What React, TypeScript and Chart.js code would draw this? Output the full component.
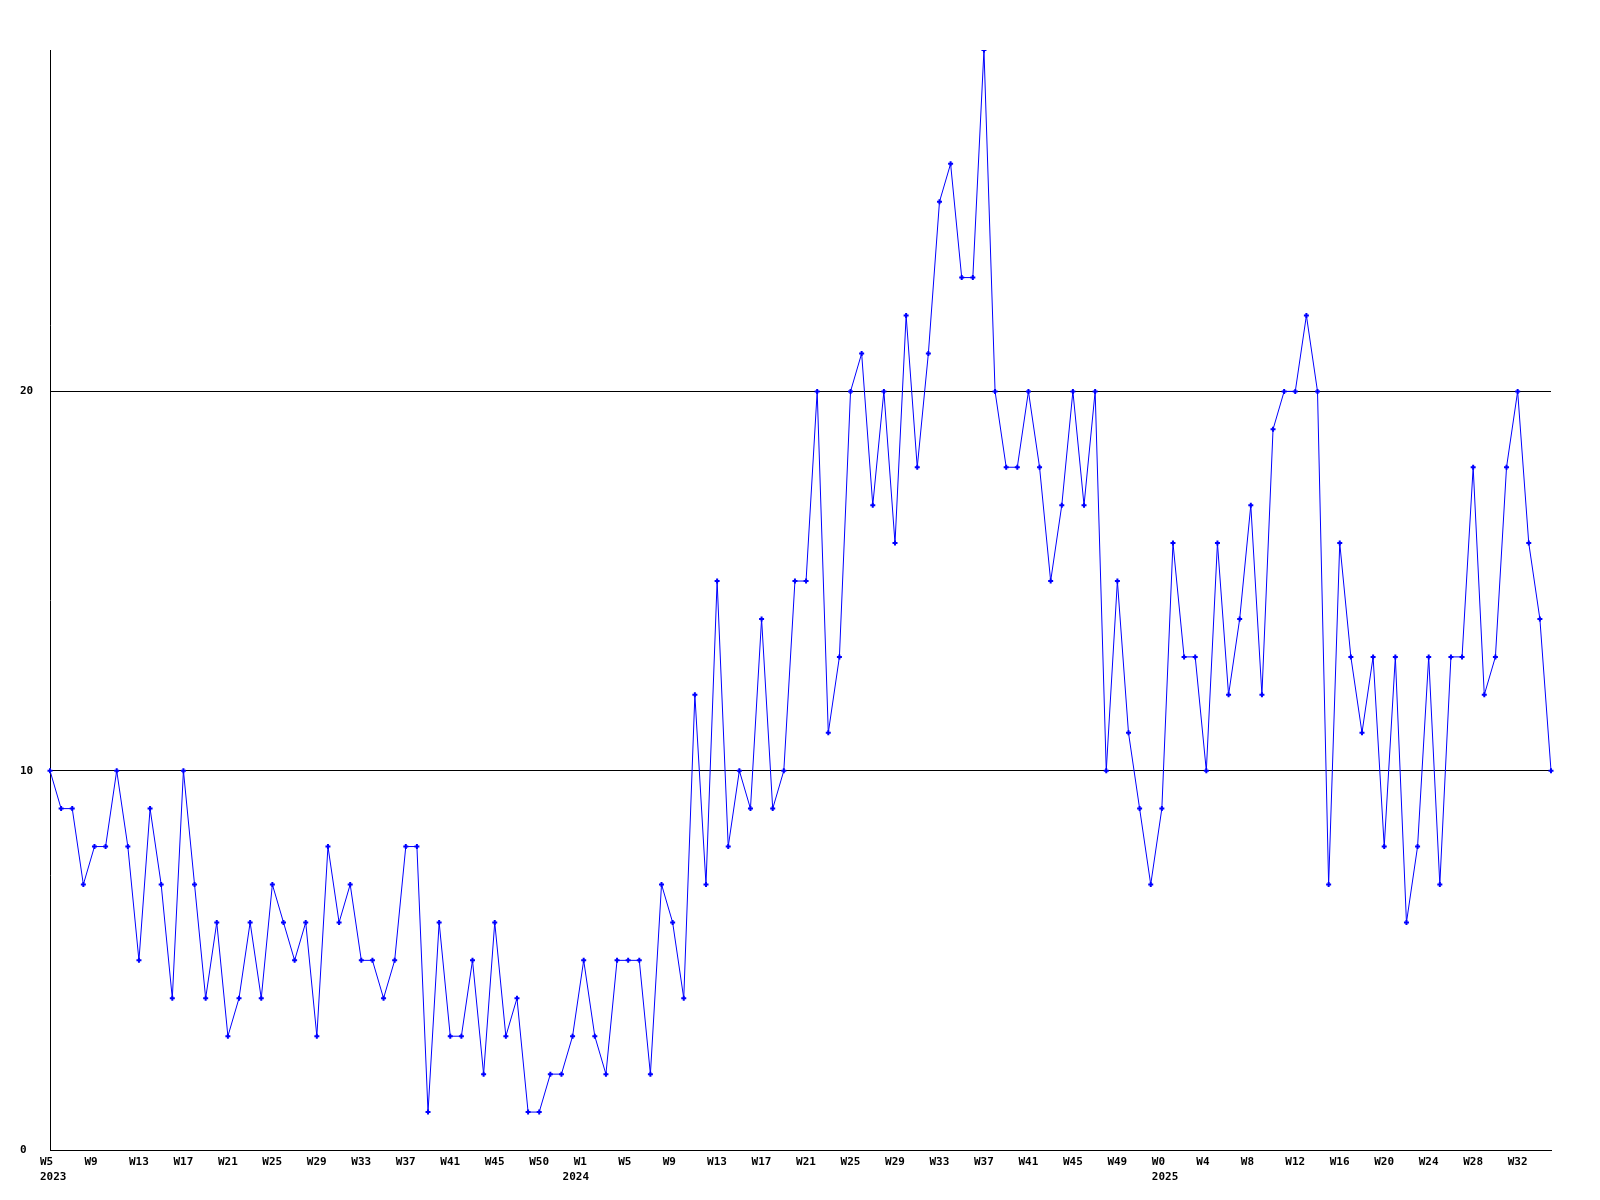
import React, { useEffect, useRef } from "react";
import { Chart, registerables } from "chart.js";

Chart.register(...registerables);

// weekly values, 136 points starting 2023 W5
const values: number[] = [
  10, 9, 9, 7, 8, 8, 10, 8, 5, 9, 7, 4, 10, 7, 4, 6, 3, 4, 6, 4,
  7, 6, 5, 6, 3, 8, 6, 7, 5, 5, 4, 5, 8, 8, 1, 6, 3, 3, 5, 2,
  6, 3, 4, 1, 1, 2, 2, 3, 5, 3, 2, 5, 5, 5, 2, 7, 6, 4, 12, 7,
  15, 8, 10, 9, 14, 9, 10, 15, 15, 20, 11, 13, 20, 21, 17, 20, 16, 22, 18, 21,
  25, 26, 23, 23, 29, 20, 18, 18, 20, 18, 15, 17, 20, 17, 20, 10, 15, 11, 9, 7,
  9, 16, 13, 13, 10, 16, 12, 14, 17, 12, 19, 20, 20, 22, 20, 7, 16, 13, 11, 13,
  8, 13, 6, 8, 13, 7, 13, 13, 18, 12, 13, 18, 20, 16, 14, 10,
];

// week tick labels, one every 4 points
const weekLabels: string[] = [
  "W5", "W9", "W13", "W17", "W21", "W25", "W29", "W33", "W37", "W41", "W45", "W50",
  "W1", "W5", "W9", "W13", "W17", "W21", "W25", "W29", "W33", "W37", "W41", "W45", "W49",
  "W0", "W4", "W8", "W12", "W16", "W20", "W24", "W28", "W32",
];
const labelStep = 4;
// year labels (second line) and the point they sit under
const yearNames: string[] = ["2023", "2024", "2025"];
const yearPoints: number[] = [0, 47, 100];
const yTicks: number[] = [0, 10, 20];
const yMax = 29;

const categories: string[] = values.map((_, i) => String(i));

const FONT = { family: "'DejaVu Sans Mono', monospace", size: 11, weight: "bold" as const, lineHeight: 15 / 11 };

export default function App() {
  const ref = useRef<HTMLCanvasElement | null>(null);
  useEffect(() => {
    if (!ref.current) return;
    const chart = new Chart(ref.current, {
      type: "line",
      data: {
        labels: categories,
        datasets: [
          {
            data: values,
            borderColor: "#0000ff",
            backgroundColor: "#0000ff",
            borderWidth: 1,
            pointStyle: "cross",
            pointRadius: 2.5,
            pointBorderWidth: 2,
            pointBorderColor: "#0000ff",
            tension: 0,
            fill: false,
          },
        ],
      },
      options: {
        animation: false,
        responsive: false,
        devicePixelRatio: 1,
        layout: { padding: { left: 20, top: 50, right: 49, bottom: 0 }, autoPadding: false },
        plugins: { legend: { display: false }, tooltip: { enabled: false } },
        scales: {
          x: {
            type: "category",
            offset: false,
            grid: { display: false, drawTicks: false },
            border: { display: true, color: "#000000", width: 1 },
            afterFit: (s: any) => {
              s.height = 50;
            },
            ticks: {
              autoSkip: false,
              maxRotation: 0,
              minRotation: 0,
              align: "start",
              labelOffset: -10,
              padding: 5,
              color: "#000000",
              font: FONT,
              callback: (_v: any, i: number) => {
                let w = "";
                if (i % labelStep === 0 && weekLabels[i / labelStep] !== undefined) w = weekLabels[i / labelStep];
                const yi = yearPoints.indexOf(i);
                if (yi >= 0) return [w, yearNames[yi]];
                return w;
              },
            },
          },
          y: {
            min: 0,
            max: yMax,
            afterBuildTicks: (s: any) => {
              s.ticks = yTicks.map((v) => ({ value: v }));
            },
            afterFit: (s: any) => {
              s.width = 30;
            },
            grid: { display: true, color: "#000000", lineWidth: 1, drawTicks: false },
            border: { display: true, color: "#000000", width: 1 },
            ticks: {
              crossAlign: "far",
              padding: 4,
              color: "#000000",
              font: FONT,
            },
          },
        },
      },
    });
    return () => chart.destroy();
  }, []);
  return (
    <div style={{ position: "absolute", left: 0, top: 0, width: 1600, height: 1200, background: "#ffffff" }}>
      <canvas ref={ref} width={1600} height={1200} style={{ width: 1600, height: 1200 }} />
    </div>
  );
}
